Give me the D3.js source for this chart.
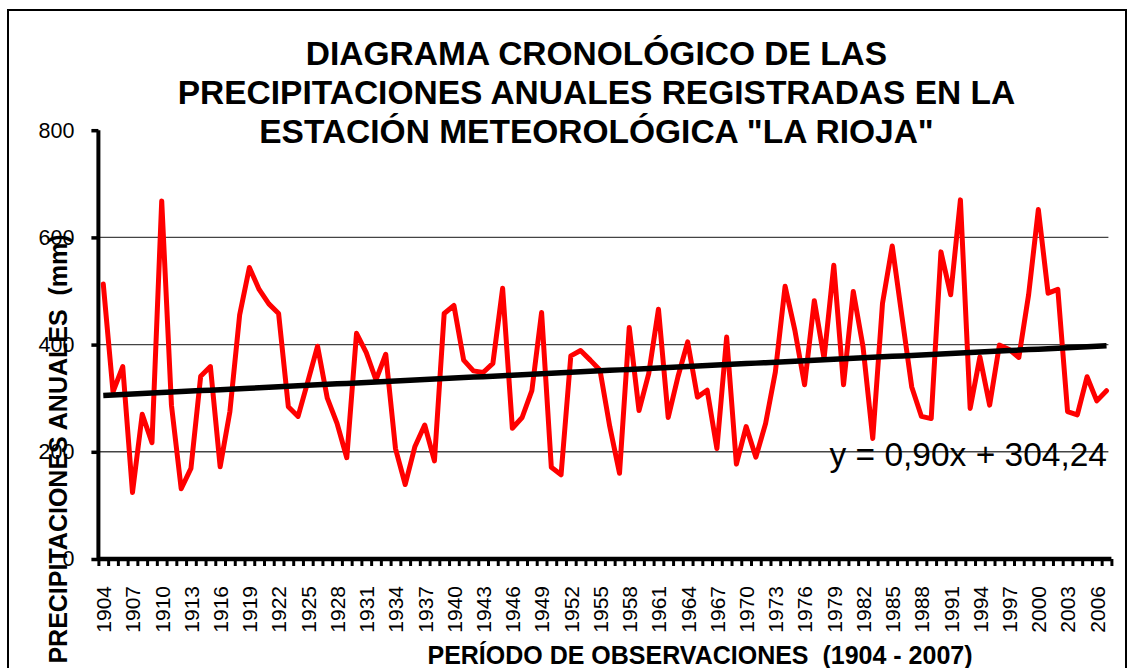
<!DOCTYPE html>
<html>
<head>
<meta charset="utf-8">
<script src="https://cdn.jsdelivr.net/npm/d3@7"></script>
<style>
  body { margin: 0; background: #fff; }
  svg { display: block; }
  text { font-family: Arial, 'Liberation Sans', sans-serif; }
</style>
</head>
<body>
<div id="chart"></div>
<script>
// Years on the category axis
const years = d3.range(1904, 2008)

// Annual rainfall (mm)
const precip = [
  513, 312, 359, 124, 270, 217, 668, 287, 131, 169,
  341, 359, 172, 275, 455, 544, 503, 476, 458, 284,
  266, 331, 397, 300, 253, 189, 421, 385, 334, 382,
  206, 139, 210, 250, 183, 458, 473, 371, 351, 348,
  365, 505, 244, 264, 314, 460, 171, 157, 379, 389,
  371, 352, 247, 160, 432, 277, 346, 466, 264, 340,
  405, 302, 315, 206, 414, 177, 247, 190, 253, 349,
  509, 427, 325, 482, 374, 548, 325, 499, 396, 225,
  477, 584, 452, 321, 266, 262, 573, 493, 670, 281,
  377, 287, 399, 391, 376, 493, 652, 496, 503, 275,
  269, 340, 295, 314
]

// Trend line y = 0,90x + 304,24 (x = 1..104)
const trendSlope = 0.90
const trendIntercept = 304.24

const yTicks = [0, 200, 400, 600, 800]
const gridValues = [200, 400, 600]
const xLabelYears = years.filter((d, i) => i % 3 === 0)

const titleLines = [
  'DIAGRAMA CRONOLÓGICO DE LAS',
  'PRECIPITACIONES ANUALES REGISTRADAS EN LA',
  'ESTACIÓN METEOROLÓGICA "LA RIOJA"'
]

const width = 1134
const height = 668
const plot = { left: 98.4, right: 1111.4, top: 130.2, bottom: 559 }

const svg = d3.select('#chart')
  .append('svg')
  .attr('width', width)
  .attr('height', height)

// outer frame
svg.append('rect')
  .attr('x', 8)
  .attr('y', 10)
  .attr('width', 1118)
  .attr('height', 700)
  .attr('fill', 'none')
  .attr('stroke', '#000')
  .attr('stroke-width', 2)

// scales
const xPositionScale = d3.scalePoint()
  .domain(years)
  .range([plot.left, plot.right])
  .padding(0.5)

const xBoundScale = d3.scaleLinear()
  .domain([0, years.length])
  .range([plot.left, plot.right])

const yPositionScale = d3.scaleLinear()
  .domain([0, 800])
  .range([plot.bottom, plot.top])

// gridlines
svg.append('g')
  .selectAll('line')
  .data(gridValues)
  .enter()
  .append('line')
  .attr('x1', plot.left)
  .attr('x2', plot.right - 3)
  .attr('y1', d => yPositionScale(d))
  .attr('y2', d => yPositionScale(d))
  .attr('stroke', '#444')
  .attr('stroke-width', 1.4)

// title
svg.append('text')
  .attr('text-anchor', 'middle')
  .attr('font-size', 33.5)
  .attr('font-weight', 'bold')
  .selectAll('tspan')
  .data(titleLines)
  .enter()
  .append('tspan')
  .attr('x', 596.5)
  .attr('y', (d, i) => 65 + i * 39)
  .text(d => d)

// y axis
const yAxis = d3.axisLeft(yPositionScale)
  .tickValues(yTicks)
  .tickSize(7)
  .tickPadding(17)
  .tickFormat(d3.format('d'))
svg.append('g')
  .attr('class', 'axis y-axis')
  .attr('transform', 'translate(' + plot.left + ',0)')
  .call(yAxis)
  .call(g => g.select('.domain').remove())
  .call(g => g.selectAll('.tick line').attr('stroke', '#000').attr('stroke-width', 3.5))
  .call(g => g.selectAll('.tick text')
    .attr('font-size', 21.5)
    .attr('font-family', 'Arial, Liberation Sans, sans-serif')
    .attr('fill', '#000'))

svg.append('line')
  .attr('x1', plot.left)
  .attr('x2', plot.left)
  .attr('y1', plot.top)
  .attr('y2', plot.bottom + 2)
  .attr('stroke', '#000')
  .attr('stroke-width', 4)

// x axis: tick marks sit on the category boundaries
const xTickAxis = d3.axisBottom(xBoundScale)
  .tickValues(d3.range(years.length + 1))
  .tickSize(7)
  .tickFormat('')
svg.append('g')
  .attr('class', 'axis x-axis')
  .attr('transform', 'translate(0,' + plot.bottom + ')')
  .call(xTickAxis)
  .call(g => g.select('.domain').remove())
  .call(g => g.selectAll('.tick line').attr('stroke', '#000').attr('stroke-width', 3))

svg.append('line')
  .attr('x1', plot.left)
  .attr('x2', plot.right)
  .attr('y1', plot.bottom)
  .attr('y2', plot.bottom)
  .attr('stroke', '#000')
  .attr('stroke-width', 4.5)

// year labels, every third year, turned on their side
const xLabelAxis = d3.axisBottom(xPositionScale)
  .tickValues(xLabelYears)
  .tickSize(0)
  .tickPadding(0)
svg.append('g')
  .attr('class', 'axis x-labels')
  .attr('transform', 'translate(0,' + plot.bottom + ')')
  .call(xLabelAxis)
  .call(g => g.select('.domain').remove())
  .call(g => g.selectAll('.tick text')
    .attr('font-size', 21)
    .attr('font-family', 'Arial, Liberation Sans, sans-serif')
    .attr('fill', '#000')
    .attr('text-anchor', 'end')
    .attr('transform', 'rotate(-90)')
    .attr('x', -27)
    .attr('y', 0)
    .attr('dy', '0.35em'))

// rainfall line
const line = d3.line()
  .x((d, i) => xPositionScale(years[i]))
  .y(d => yPositionScale(d))

svg.append('path')
  .datum(precip)
  .attr('d', line)
  .attr('fill', 'none')
  .attr('stroke', '#ff0000')
  .attr('stroke-width', 5)
  .attr('stroke-linejoin', 'round')
  .attr('stroke-linecap', 'round')

// trend line on top
const trend = years.map((d, i) => trendSlope * (i + 1) + trendIntercept)
svg.append('path')
  .datum(trend)
  .attr('d', line)
  .attr('fill', 'none')
  .attr('stroke', '#000')
  .attr('stroke-width', 5.5)

// equation label
svg.append('text')
  .text('y = 0,90x + 304,24')
  .attr('x', 1107)
  .attr('y', 466)
  .attr('text-anchor', 'end')
  .attr('font-size', 33.5)
  .attr('fill', '#000')

// axis titles
svg.append('text')
  .text('PERÍODO DE OBSERVACIONES  (1904 - 2007)')
  .attr('x', 700)
  .attr('y', 664)
  .attr('text-anchor', 'middle')
  .attr('font-size', 25)
  .attr('font-weight', 'bold')
  .style('white-space', 'pre')

svg.append('text')
  .text('PRECIPITACIONES ANUALES  (mm)')
  .attr('transform', 'translate(66.5,449) rotate(-90)')
  .attr('text-anchor', 'middle')
  .attr('font-size', 25)
  .attr('font-weight', 'bold')
  .style('white-space', 'pre')
</script>
</body>
</html>
